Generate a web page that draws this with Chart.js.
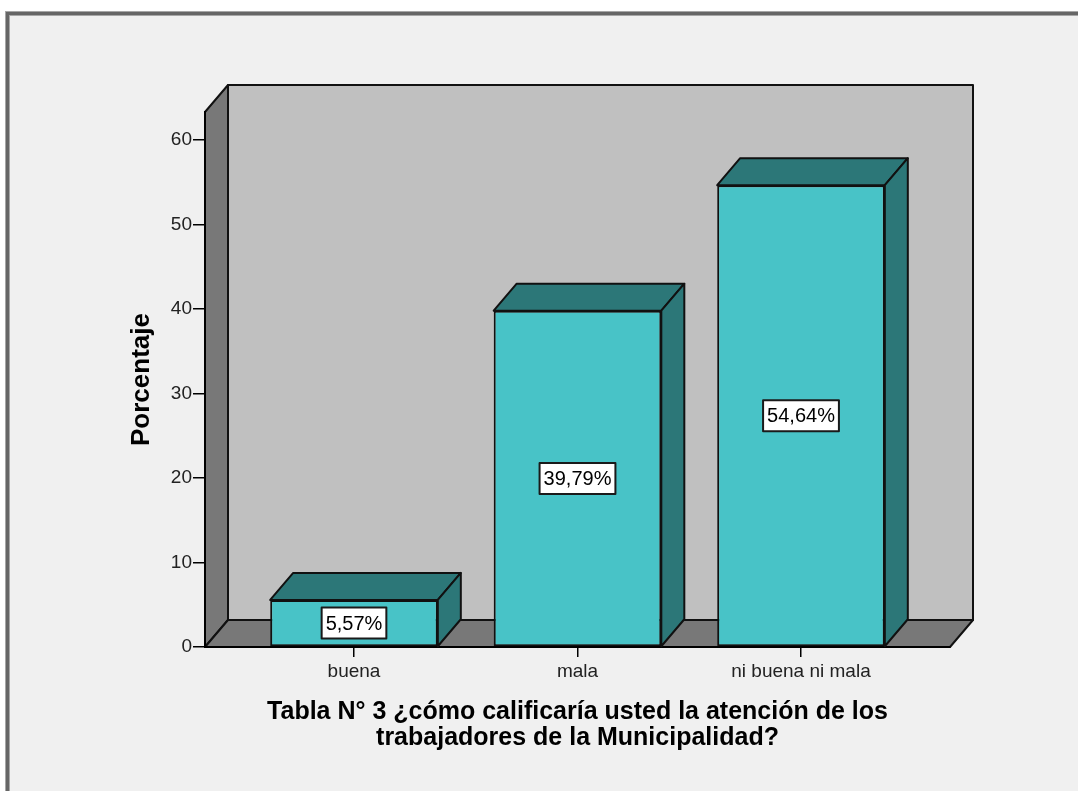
<!DOCTYPE html>
<html>
<head>
<meta charset="utf-8">
<title>Tabla N° 3</title>
<script src="https://cdn.jsdelivr.net/npm/chart.js@4/dist/chart.umd.min.js"></script>
<style>
  html, body { margin: 0; padding: 0; background: #ffffff; }
  canvas { display: block; }
</style>
</head>
<body>
<canvas id="chart" width="1078" height="791"></canvas>
<script>
// Survey answers and their share of respondents (%)
const categories = ['buena', 'mala', 'ni buena ni mala'];
const percentages = [5.57, 39.79, 54.64];
const yTickValues = [0, 10, 20, 30, 40, 50, 60];
const yAxisTitle = 'Porcentaje';
const xAxisTitle = [
  'Tabla N° 3 ¿cómo calificaría usted la atención de los',
  'trabajadores de la Municipalidad?'
];

// Presentation settings
const FONT = "'Liberation Sans', Arial, Helvetica, sans-serif";
const Y_MAX = 63.3;
const X_MIN = -2 / 3, X_MAX = 8 / 3;   // room on both sides of the three bars
const DEPTH_X = 23;     // horizontal offset of the 3D depth
const DEPTH_Y = -27;    // vertical offset of the 3D depth
const COLORS = {
  page: '#ffffff',
  panel: '#f0f0f0',
  backWall: '#c0c0c0',
  sideWall: '#787878',
  barFront: '#48c3c7',
  barDark: '#2c7778',
  edge: '#111111'
};

const formatPercent = v => v.toFixed(2).replace('.', ',') + '%';

function poly(ctx, pts, fill) {
  ctx.beginPath();
  ctx.moveTo(pts[0][0], pts[0][1]);
  for (let i = 1; i < pts.length; i++) ctx.lineTo(pts[i][0], pts[i][1]);
  ctx.closePath();
  ctx.fillStyle = fill;
  ctx.fill();
  ctx.stroke();
}

// Panel background, frame and the 3D box (back wall, side wall, floor)
const boxPlugin = {
  id: 'box3d',
  beforeDraw(chart) {
    const { ctx, chartArea: a, width, height } = chart;
    ctx.save();
    ctx.fillStyle = COLORS.page;
    ctx.fillRect(0, 0, width, height);
    ctx.fillStyle = COLORS.panel;
    ctx.fillRect(5, 11, width, height);
    ctx.fillStyle = '#a6a6a6';
    ctx.fillRect(5, 11, width, 5);
    ctx.fillRect(5, 11, 5, height);
    ctx.fillStyle = '#666666';
    ctx.fillRect(6, 12, width, 3);
    ctx.fillRect(6, 12, 3, height);

    ctx.strokeStyle = COLORS.edge;
    ctx.lineWidth = 2;
    ctx.lineJoin = 'round';
    const L = a.left, R = a.right, T = a.top, B = a.bottom;
    // back wall
    poly(ctx, [[L + DEPTH_X, T + DEPTH_Y], [R + DEPTH_X, T + DEPTH_Y],
               [R + DEPTH_X, B + DEPTH_Y], [L + DEPTH_X, B + DEPTH_Y]], COLORS.backWall);
    // left side wall
    poly(ctx, [[L, B], [L, T], [L + DEPTH_X, T + DEPTH_Y], [L + DEPTH_X, B + DEPTH_Y]], COLORS.sideWall);
    // floor
    poly(ctx, [[L, B], [R, B], [R + DEPTH_X, B + DEPTH_Y], [L + DEPTH_X, B + DEPTH_Y]], COLORS.sideWall);
    ctx.restore();
  },
  afterDatasetsDraw(chart) {
    const { ctx } = chart;
    const meta = chart.getDatasetMeta(0);
    ctx.save();
    ctx.strokeStyle = COLORS.edge;
    ctx.lineWidth = 2;
    ctx.lineJoin = 'round';
    meta.data.forEach(bar => {
      const { x, y, base, width } = bar.getProps(['x', 'y', 'base', 'width'], true);
      const x1 = x - width / 2, x2 = x + width / 2;
      // top face
      poly(ctx, [[x1, y], [x2, y], [x2 + DEPTH_X, y + DEPTH_Y], [x1 + DEPTH_X, y + DEPTH_Y]], COLORS.barDark);
      // right face
      poly(ctx, [[x2, y], [x2 + DEPTH_X, y + DEPTH_Y], [x2 + DEPTH_X, base + DEPTH_Y], [x2, base]], COLORS.barDark);
    });
    // value labels in white boxes at the middle of each bar
    ctx.font = '20px ' + FONT;
    ctx.textAlign = 'center';
    ctx.textBaseline = 'middle';
    meta.data.forEach((bar, i) => {
      const { x, y, base } = bar.getProps(['x', 'y', 'base'], true);
      const text = formatPercent(percentages[i]);
      const w = ctx.measureText(text).width + 8;
      const h = 31;
      const cy = (y + base) / 2;
      ctx.fillStyle = '#ffffff';
      ctx.fillRect(x - w / 2, cy - h / 2, w, h);
      ctx.strokeStyle = '#1a1a1a';
      ctx.lineWidth = 2;
      ctx.strokeRect(x - w / 2, cy - h / 2, w, h);
      ctx.fillStyle = '#000000';
      ctx.fillText(text, x, cy + 1);
    });
    ctx.restore();
  }
};

new Chart(document.getElementById('chart'), {
  type: 'bar',
  data: {
    datasets: [{
      data: categories.map((c, i) => ({ x: i, y: percentages[i] })),
      backgroundColor: COLORS.barFront,
      borderColor: COLORS.edge,
      borderWidth: 2,
      borderSkipped: false,
      barPercentage: 1,
      categoryPercentage: 0.75
    }]
  },
  options: {
    responsive: false,
    animation: false,
    events: [],
    layout: { padding: { top: 112, right: 128, left: 0, bottom: 0 } },
    plugins: {
      legend: { display: false },
      tooltip: { enabled: false },
      title: { display: false }
    },
    scales: {
      x: {
        type: 'linear',
        offset: false,
        min: X_MIN,
        max: X_MAX,
        afterDataLimits: s => { s.min = X_MIN; s.max = X_MAX; },
        afterBuildTicks: s => { s.ticks = categories.map((c, i) => ({ value: i })); },
        afterFit: s => { s.height = 144; },
        grid: { display: true, offset: false, drawOnChartArea: false, drawTicks: true, tickLength: 10, color: '#000', lineWidth: 1.5 },
        border: { display: true, color: '#000', width: 2 },
        ticks: {
          autoSkip: false,
          maxRotation: 0,
          padding: 3,
          color: '#222',
          font: { family: FONT, size: 19 },
          callback: v => categories[v] ?? ''
        },
        title: {
          display: true,
          text: xAxisTitle,
          color: '#000',
          font: { family: FONT, size: 25, weight: 'bold', lineHeight: 1.04 },
          padding: { top: 0, bottom: 40 }
        }
      },
      y: {
        min: 0,
        max: Y_MAX,
        afterBuildTicks: s => { s.ticks = yTickValues.map(v => ({ value: v })); },
        afterFit: s => { s.width = 205; },
        grid: { display: true, drawOnChartArea: false, drawTicks: true, tickLength: 12, color: '#000', lineWidth: 1.5 },
        border: { display: true, color: '#000', width: 2 },
        ticks: {
          padding: 1,
          color: '#222',
          font: { family: FONT, size: 19 }
        },
        title: {
          display: true,
          text: yAxisTitle,
          color: '#000',
          font: { family: FONT, size: 26, weight: 'bold', lineHeight: 1.2 },
          padding: { top: 126, bottom: 0 }
        }
      }
    }
  },
  plugins: [boxPlugin]
});
</script>
</body>
</html>
